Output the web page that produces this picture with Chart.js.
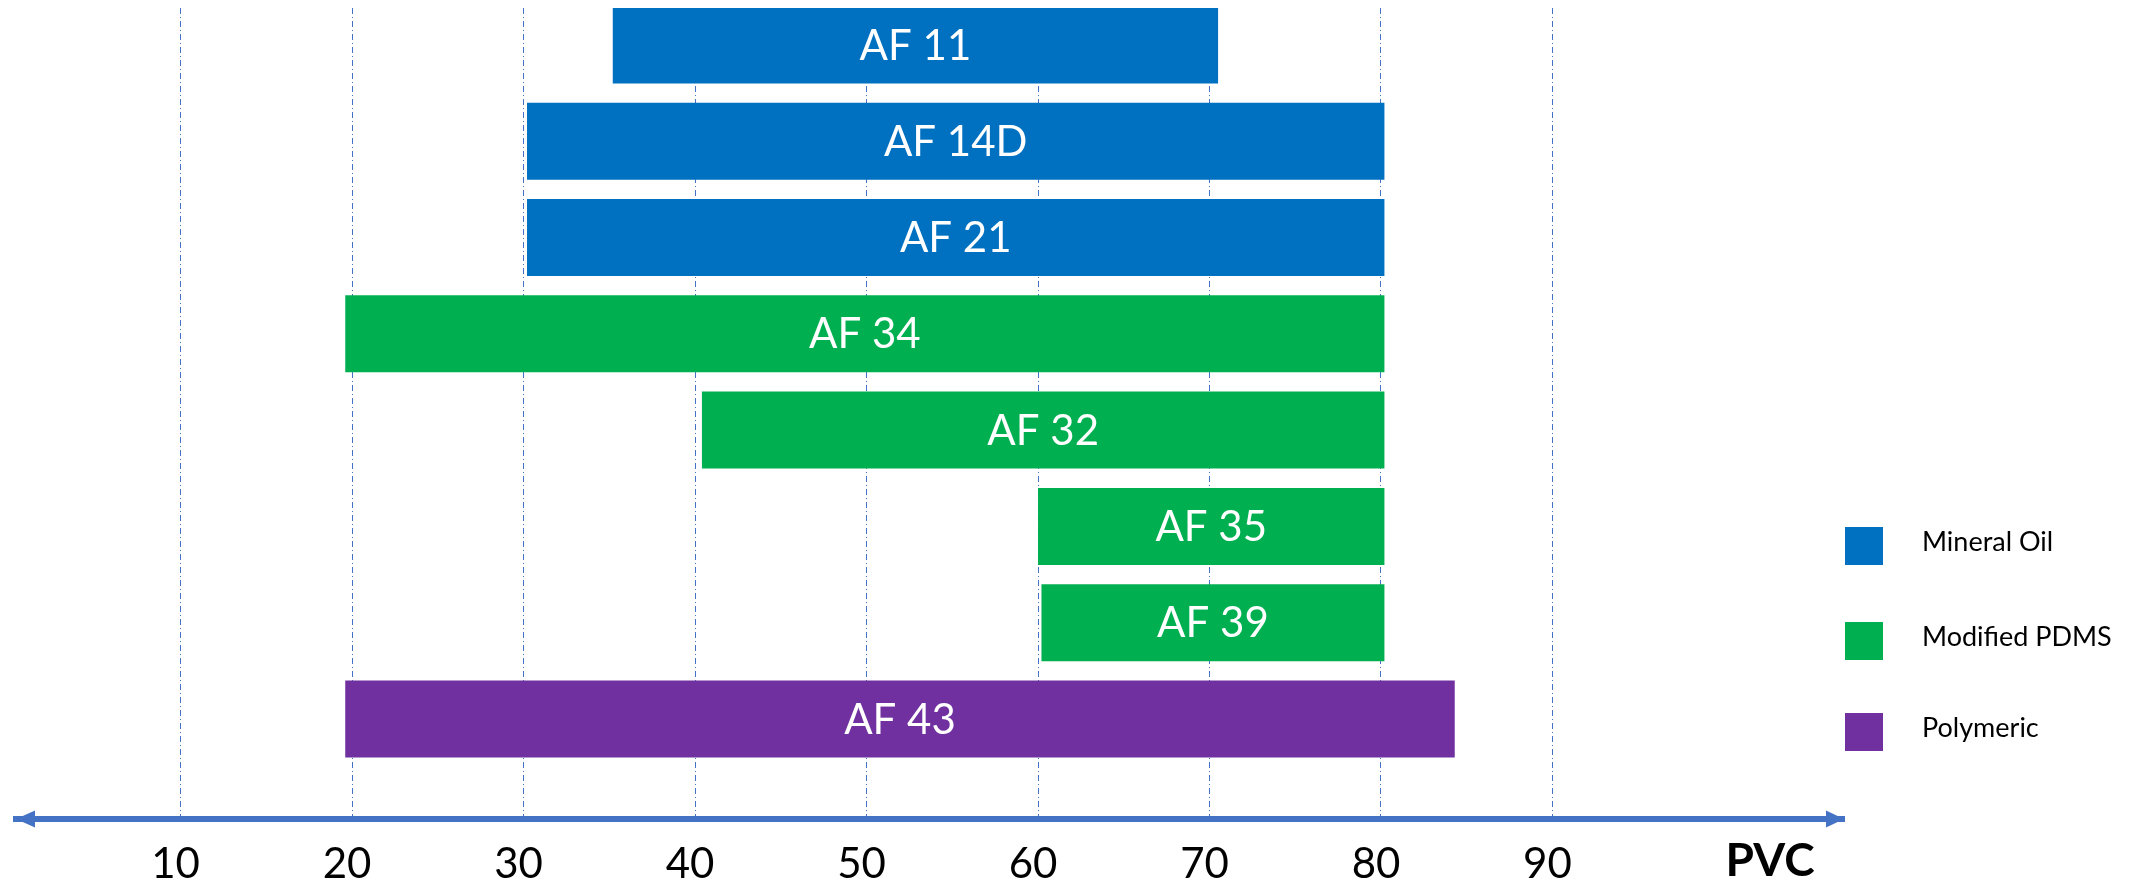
<!DOCTYPE html>
<html>
<head>
<meta charset="utf-8">
<script src="https://cdn.jsdelivr.net/npm/chart.js@4/dist/chart.umd.min.js"></script>
<style>
  html, body { margin: 0; padding: 0; background: #fff; }
</style>
</head>
<body>
<canvas id="chart" width="2143" height="886"></canvas>
<script>
// bar names, top to bottom
const categories = ['AF 11', 'AF 14D', 'AF 21', 'AF 34', 'AF 32', 'AF 35', 'AF 39', 'AF 43'];
// PVC range of each bar
const startValues = [35.2, 30.2, 30.2, 19.6, 40.4, 60.0, 60.2, 19.6];
const endValues = [70.5, 80.2, 80.2, 80.2, 80.2, 80.2, 80.2, 84.3];
// which family each bar belongs to
const barGroups = [0, 0, 0, 1, 1, 1, 1, 2];
const groupNames = ['Mineral Oil', 'Modified PDMS', 'Polymeric'];
const groupColors = ['#0070C0', '#00B050', '#7030A0'];
const tickValues = [10, 20, 30, 40, 50, 60, 70, 80, 90];
const axisTitle = 'PVC';

const axisColor = '#4472C4';
const fontFamily = 'Lato, "Open Sans", sans-serif';

const datasets = groupNames.map((name, g) => ({
  label: name,
  backgroundColor: groupColors[g],
  borderWidth: 0,
  data: categories
    .map((c, i) => ({ x: [startValues[i], endValues[i]], y: i, g: barGroups[i] }))
    .filter((d) => d.g === g),
}));

// white names inside the bars
const barLabels = {
  id: 'barLabels',
  afterDatasetsDraw(chart) {
    const ctx = chart.ctx;
    ctx.save();
    ctx.fillStyle = '#fff';
    ctx.font = '42px ' + fontFamily;
    ctx.textAlign = 'center';
    ctx.textBaseline = 'middle';
    chart.data.datasets.forEach((ds, di) => {
      chart.getDatasetMeta(di).data.forEach((bar, j) => {
        const name = categories[ds.data[j].y];
        ctx.fillText(name, (bar.x + bar.base) / 2, bar.y + 1);
      });
    });
    ctx.restore();
  },
};

// double arrow on the axis, the PVC title and the legend on the right
const decorations = {
  id: 'decorations',
  afterDraw(chart) {
    const ctx = chart.ctx;
    const area = chart.chartArea;
    const y = area.bottom;
    ctx.save();

    ctx.fillStyle = axisColor;
    ctx.beginPath();
    ctx.moveTo(area.left, y);
    ctx.lineTo(area.left + 19, y - 8.5);
    ctx.lineTo(area.left + 19, y + 8.5);
    ctx.closePath();
    ctx.fill();
    ctx.beginPath();
    ctx.moveTo(area.right, y);
    ctx.lineTo(area.right - 18, y - 8.5);
    ctx.lineTo(area.right - 18, y + 8.5);
    ctx.closePath();
    ctx.fill();

    ctx.fillStyle = '#000';
    ctx.font = 'bold 46px ' + fontFamily;
    ctx.textAlign = 'center';
    ctx.textBaseline = 'middle';
    ctx.fillText(axisTitle, 1770, 861);

    const legendY = [546, 641, 732];
    ctx.font = '27px ' + fontFamily;
    ctx.textAlign = 'left';
    groupNames.forEach((name, g) => {
      ctx.fillStyle = groupColors[g];
      ctx.fillRect(1845, legendY[g] - 19, 38, 38);
      ctx.fillStyle = '#000';
      ctx.fillText(name, 1922, legendY[g] - 4);
    });

    ctx.restore();
  },
};

new Chart(document.getElementById('chart'), {
  type: 'bar',
  data: { datasets },
  options: {
    indexAxis: 'y',
    responsive: false,
    animation: false,
    grouped: false,
    categoryPercentage: 1,
    barPercentage: 0.8,
    layout: { padding: { left: 16, right: 299, top: 8, bottom: 0 } },
    plugins: {
      legend: { display: false },
      tooltip: { enabled: false },
    },
    scales: {
      x: {
        type: 'linear',
        min: 0.4,
        max: 107,
        afterBuildTicks: (axis) => {
          axis.ticks = tickValues.map((v) => ({ value: v }));
        },
        afterFit: (axis) => {
          axis.height = 67;
        },
        grid: { color: axisColor, lineWidth: 1, drawTicks: false },
        border: { display: true, color: axisColor, width: 6, dash: [6, 3, 1, 3] },
        ticks: {
          color: '#000',
          padding: 24,
          labelOffset: -5,
          font: { family: fontFamily, size: 42, lineHeight: 1 },
        },
      },
      y: {
        type: 'linear',
        reverse: true,
        offset: false,
        min: -0.384,
        max: 8.039,
        display: false,
        afterBuildTicks: (axis) => {
          axis.ticks = categories.map((c, i) => ({ value: i }));
        },
      },
    },
  },
  plugins: [barLabels, decorations],
});
</script>
</body>
</html>
